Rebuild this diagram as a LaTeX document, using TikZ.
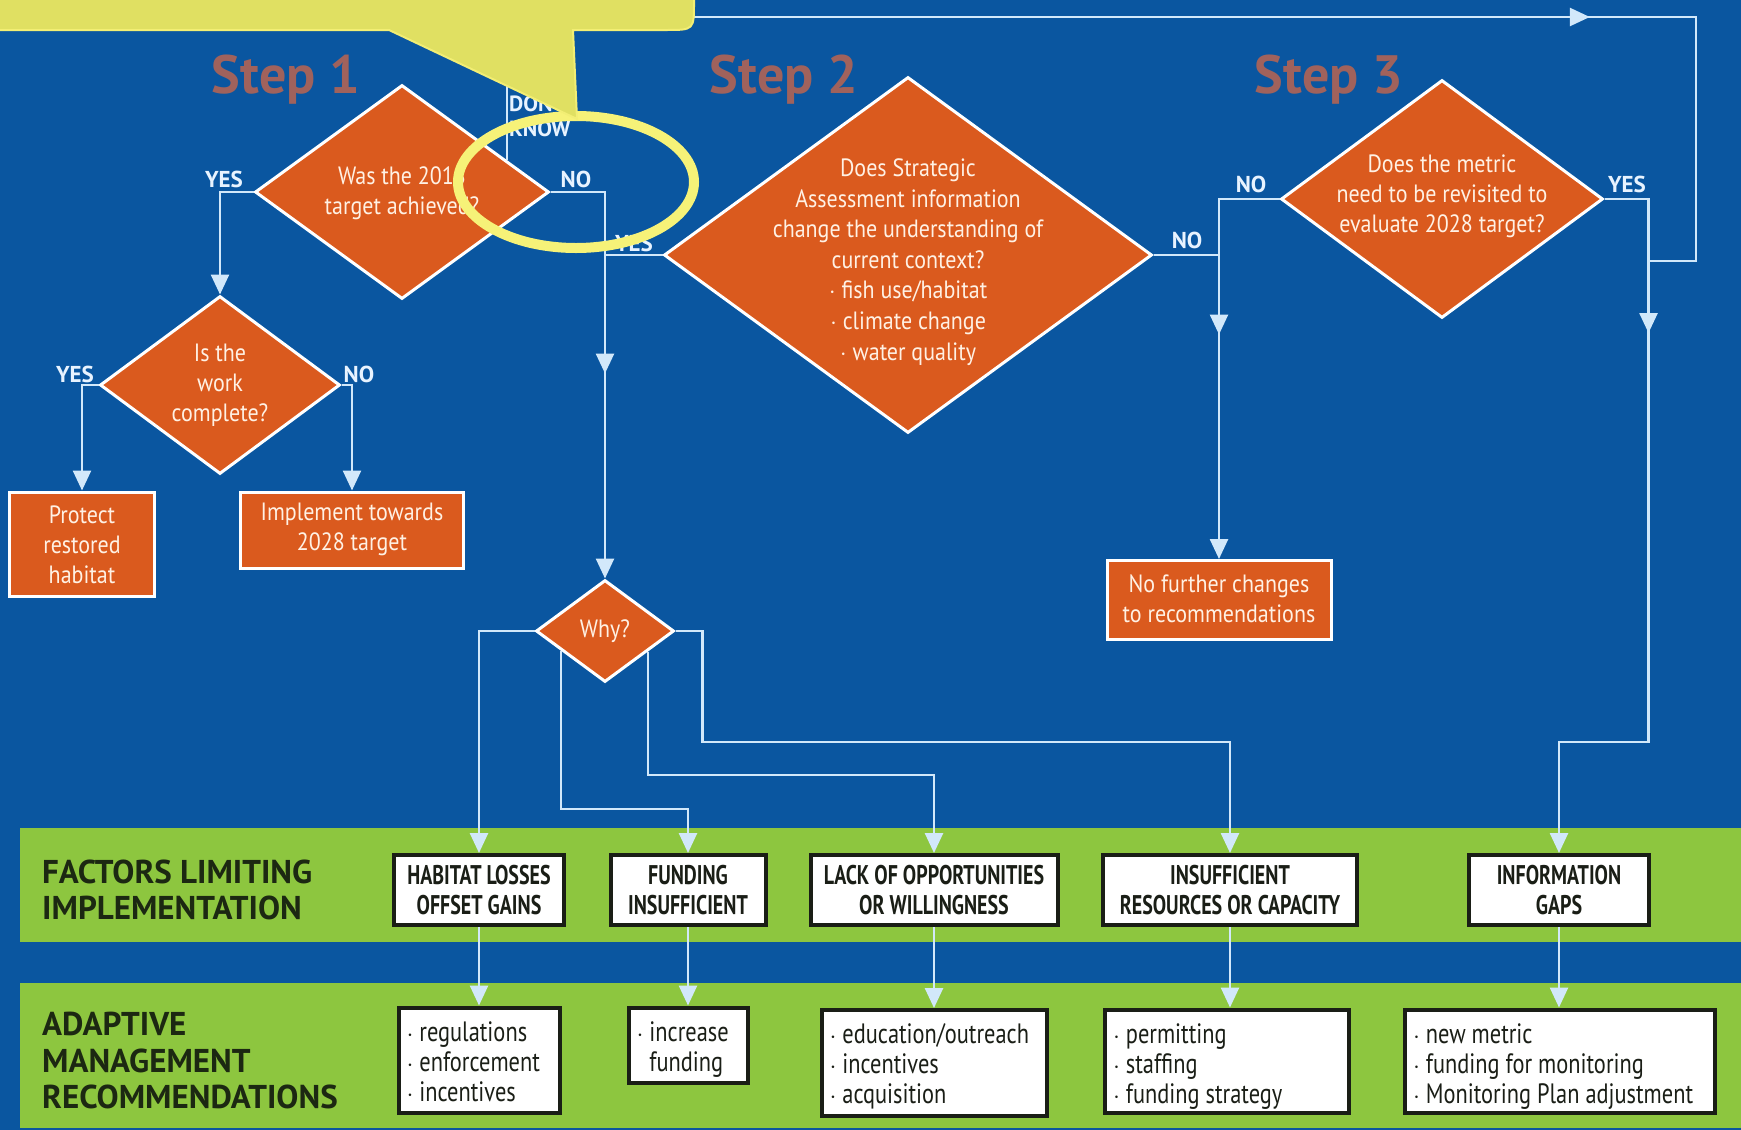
\documentclass[tikz,border=0pt]{standalone}
\usepackage{fontspec}
\setmainfont{PT Sans}
\newfontfamily\condf[FakeStretch=0.88]{PT Sans}
\newfontfamily\narrowf[FakeStretch=0.74]{PT Sans}
\newfontfamily\advicef[FakeStretch=0.8]{PT Sans}
\usetikzlibrary{shapes.geometric,arrows.meta,decorations.markings,calc}

\definecolor{bgblue}{HTML}{0A56A0}
\definecolor{qorange}{HTML}{DA5A1E}
\definecolor{qtextc}{HTML}{FFF1E4}
\definecolor{linec}{HTML}{D2E8FA}
\definecolor{lblc}{HTML}{E8F3FF}
\definecolor{bandgreen}{HTML}{8DC63F}
\definecolor{boxblack}{HTML}{1A1E16}
\definecolor{bandtxt}{HTML}{1C2812}
\definecolor{stepc}{HTML}{A0625C}
\definecolor{calloutyel}{HTML}{E0E062}
\definecolor{calloutedge}{HTML}{F2EE74}
\definecolor{ringyel}{HTML}{F6F278}

\begin{document}
\begin{tikzpicture}[x=1pt,y=-1pt,
  conn/.style={draw=linec, line width=2.6pt},
  endtip/.style={-{Triangle[width=18pt,length=20pt]}},
  midtip/.style={postaction={decorate,decoration={markings,
      mark=at position #1 with {\arrow{Triangle[width=18pt,length=20pt]}}}}},
  qdiamond/.style={diamond, draw=white, line width=3pt, fill=qorange, inner sep=0pt},
  qbox/.style={rectangle, draw=white, line width=3pt, fill=qorange, inner sep=0pt},
  qtext/.style={text=qtextc, font=\condf\fontsize{25}{30}\selectfont, align=center, inner sep=0pt},
  lbl/.style={text=lblc, font=\bfseries\fontsize{23}{23}\selectfont, inner sep=0pt},
  steplbl/.style={text=stepc, font=\bfseries\fontsize{54}{54}\selectfont, inner sep=0pt},
  bandlbl/.style={text=bandtxt, font=\bfseries\fontsize{33}{36.5}\selectfont, align=left, inner sep=0pt, anchor=west},
  factor/.style={rectangle, draw=boxblack, line width=4pt, fill=white, minimum height=70pt,
      inner sep=0pt, align=center, text=boxblack, font=\narrowf\bfseries\fontsize{27}{30}\selectfont},
  advice/.style={rectangle, draw=boxblack, line width=4pt, fill=white, inner sep=0pt,
      text=boxblack, font=\advicef\fontsize{28}{30}\selectfont}
]
\useasboundingbox (0,0) rectangle (1741,1130);
\fill[bgblue] (0,0) rectangle (1741,1130);

% green bands
\fill[bandgreen] (20,828) rectangle (1741,942);
\fill[bandgreen] (20,983) rectangle (1741,1128);

% step titles
\node[steplbl] (st1) at (286,80) {Step 1};
\node[steplbl] (st2) at (784,80) {Step 2};
\node[steplbl] (st3) at (1329,80) {Step 3};

% decision diamonds
\node[qdiamond, minimum width=294pt, minimum height=214pt] (d1) at (402,192) {};
\node[qtext] (d1t) at (402,193) {Was the 2018\\target achieved?};
\node[qdiamond, minimum width=240pt, minimum height=178pt] (d2) at (220,385) {};
\node[qtext] (d2t) at (220,385) {Is the\\work\\complete?};
\node[qdiamond, minimum width=488pt, minimum height=356pt] (s2) at (908,255) {};
\node[qtext, font=\condf\fontsize{25}{30.6}\selectfont] (s2t) at (908,262)
  {Does Strategic\\Assessment information\\change the understanding of\\current context?\\$\cdot$ fish use/habitat\\$\cdot$ climate change\\$\cdot$ water quality};
\node[qdiamond, minimum width=322pt, minimum height=238pt] (s3) at (1442,199) {};
\node[qtext] (s3t) at (1442,196) {Does the metric\\need to be revisited to\\evaluate 2028 target?};
\node[qdiamond, minimum width=138pt, minimum height=102pt] (why) at (605,631) {};
\node[qtext] (whyt) at (605,631) {Why?};

% outcome boxes
\node[qbox, minimum width=145pt, minimum height=104pt] (protect) at (82,544) {};
\node[qtext] (protectt) at (82,545) {Protect\\restored\\habitat};
\node[qbox, minimum width=223pt, minimum height=76pt] (impl) at (352,530) {};
\node[qtext] (implt) at (352,529) {Implement towards\\2028 target};
\node[qbox, minimum width=224pt, minimum height=79pt] (nofurther) at (1219,600) {};
\node[qtext] (nofurthert) at (1219,599) {No further changes\\to recommendations};

% band labels
\node[bandlbl] (bl1) at (42,890) {FACTORS LIMITING\\IMPLEMENTATION};
\node[bandlbl] (bl2) at (42,1061) {ADAPTIVE\\MANAGEMENT\\RECOMMENDATIONS};

% limiting factors
\node[factor, minimum width=170pt] (f1) at (479,890) {HABITAT LOSSES\\OFFSET GAINS};
\node[factor, minimum width=155pt] (f2) at (688,890) {FUNDING\\INSUFFICIENT};
\node[factor, minimum width=247pt] (f3) at (934,890) {LACK OF OPPORTUNITIES\\OR WILLINGNESS};
\node[factor, minimum width=254pt] (f4) at (1230,890) {INSUFFICIENT\\RESOURCES OR CAPACITY};
\node[factor, minimum width=180pt] (f5) at (1559,890) {INFORMATION\\GAPS};

% recommendations
\node[advice, minimum width=161pt, minimum height=105pt] (r1) at (479,1060) {};
\node[advice, minimum width=119pt, minimum height=75pt] (r2) at (688,1045) {};
\node[advice, minimum width=225pt, minimum height=106pt] (r3) at (934,1063) {};
\node[advice, minimum width=244pt, minimum height=103pt] (r4) at (1227,1061) {};
\node[advice, minimum width=310pt, minimum height=103pt] (r5) at (1560,1061) {};
\node[advice, draw=none, fill=none, anchor=north west, align=left] (r1t) at ($(r1.north west)+(8,14)$) {$\cdot$ regulations\\$\cdot$ enforcement\\$\cdot$ incentives};
\node[advice, draw=none, fill=none, anchor=north west, align=left] (r2t) at ($(r2.north west)+(8,14)$) {$\cdot$ increase\\\phantom{$\cdot$ }funding};
\node[advice, draw=none, fill=none, anchor=north west, align=left] (r3t) at ($(r3.north west)+(8,14)$) {$\cdot$ education/outreach\\$\cdot$ incentives\\$\cdot$ acquisition};
\node[advice, draw=none, fill=none, anchor=north west, align=left] (r4t) at ($(r4.north west)+(8,14)$) {$\cdot$ permitting\\$\cdot$ staffing\\$\cdot$ funding strategy};
\node[advice, draw=none, fill=none, anchor=north west, align=left] (r5t) at ($(r5.north west)+(8,14)$) {$\cdot$ new metric\\$\cdot$ funding for monitoring\\$\cdot$ Monitoring Plan adjustment};

% connector helper points
\coordinate (dk) at ($(d1.north)!0.7075!(d1.east)$);
\coordinate (wl) at ($(why.south)!0.623!(why.west)$);
\coordinate (wr) at ($(why.south)!0.609!(why.east)$);
\coordinate (yesx) at ($(s3.east)+(44,0)$);
\coordinate (dkjoin) at (1647,261);

% step 1 connectors
\draw[conn,endtip] (d1.west) -| (d2.north);
\draw[conn,endtip] (d2.west) -| (protect.north);
\draw[conn,endtip] (d2.east) -| (impl.north);
\draw[conn,endtip,midtip=236pt] (d1.east) -| (why.north);
\draw[conn] (why.north |- s2.west) -- (s2.west);
\draw[conn,midtip=1226pt] (dk) |- (1696,17) |- (dkjoin);

% step 2 and 3 connectors
\draw[conn] (s2.east) -- (s2.east -| nofurther.north);
\draw[conn,endtip,midtip=196pt] (s3.west) -| (nofurther.north);
\draw[conn,endtip,midtip=178pt] (s3.east) -- (yesx) |- ($(f5.north)+(0,-111)$) -- (f5.north);

% why branches
\draw[conn,endtip] (why.west) -| (f1.north);
\draw[conn,endtip] (wl) |- ($(f2.north)+(0,-44)$) -- (f2.north);
\draw[conn,endtip] (wr) |- ($(f3.north)+(0,-78)$) -- (f3.north);
\draw[conn,endtip] (why.east) -- ++(27,0) |- ($(f4.north)+(0,-111)$) -- (f4.north);

% factors to recommendations
\draw[conn,endtip] (f1.south) -- (f1.south |- r1.north);
\draw[conn,endtip] (f2.south) -- (f2.south |- r2.north);
\draw[conn,endtip] (f3.south) -- (f3.south |- r3.north);
\draw[conn,endtip] (f4.south) -- (f4.south |- r4.north);
\draw[conn,endtip] (f5.south) -- (f5.south |- r5.north);

% branch labels
\node[lbl] (y1) at (224,179) {YES};
\node[lbl] (n1) at (576,179) {NO};
\node[lbl] (y2) at (75,374) {YES};
\node[lbl] (n2) at (359,374) {NO};
\node[lbl] (y3) at (634,243) {YES};
\node[lbl] (n3) at (1187,240) {NO};
\node[lbl] (n4) at (1251,184) {NO};
\node[lbl] (y4) at (1627,184) {YES};
\node[lbl, font=\bfseries\fontsize{22}{25}\selectfont, align=left, anchor=north west] (dkl) at (509,96) {DON'T\\KNOW};

% highlight ring and callout
\draw[ringyel, line width=10pt] (576,182) ellipse [x radius=118, y radius=66];
\draw[calloutedge, line width=2pt, fill=calloutyel]
  (-10,-10) -- (694,-10) -- (694,2) .. controls (694,30) .. (666,30)
  -- (573,30) -- (577,119) -- (389,30) -- (-10,30) -- cycle;
\end{tikzpicture}
\end{document}
